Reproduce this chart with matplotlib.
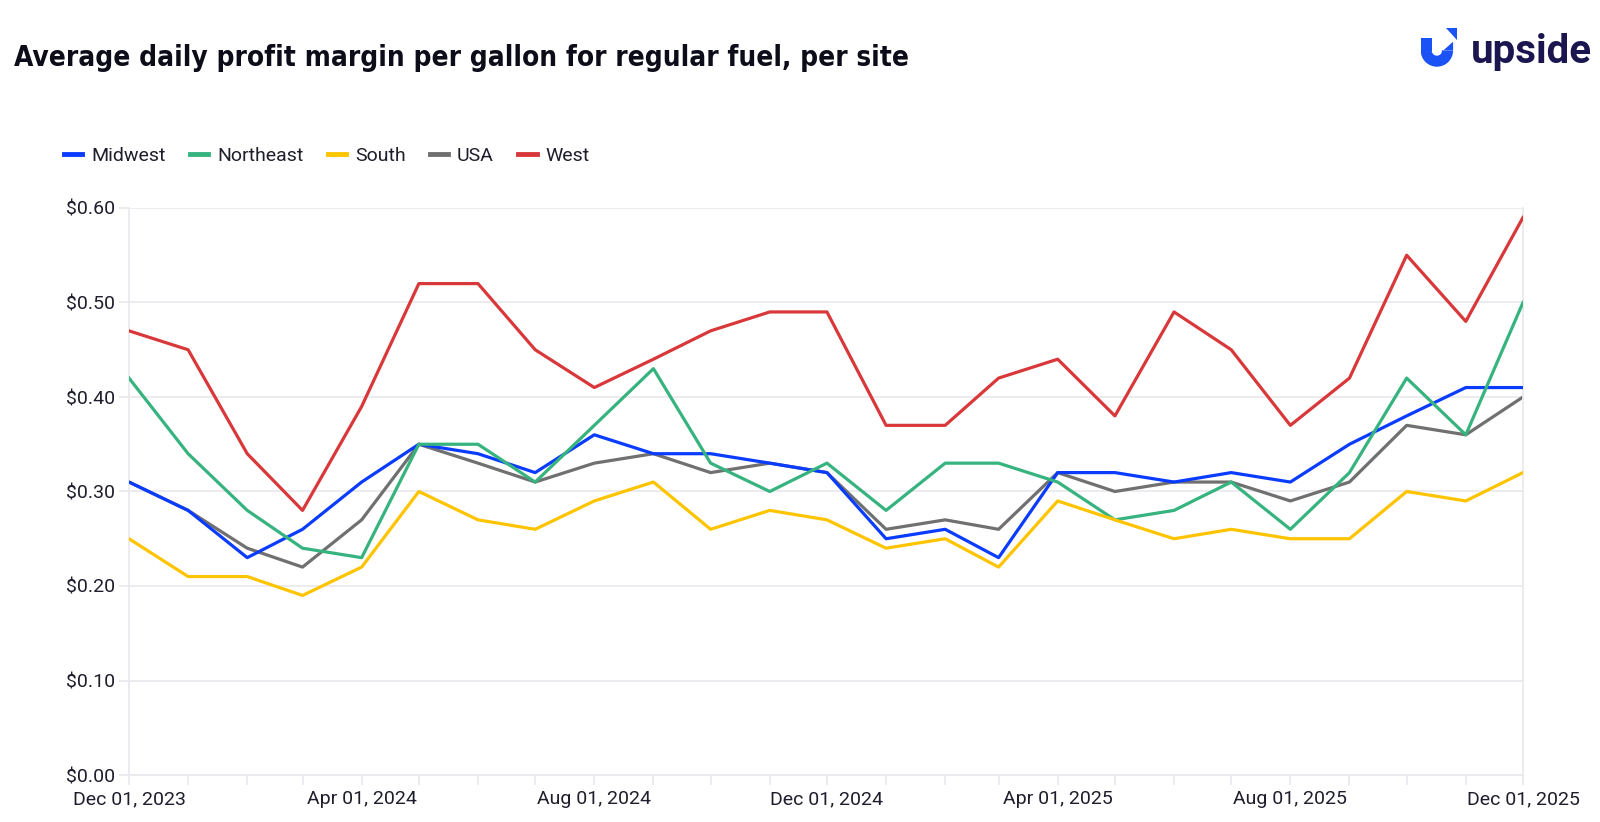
import pandas as pd
import matplotlib
matplotlib.use("Agg")
import matplotlib.pyplot as plt
from matplotlib import font_manager
from matplotlib.font_manager import FontProperties
from matplotlib.patches import Wedge, Rectangle, Polygon
from matplotlib.lines import Line2D

months = ["2023-12-01", "2024-01-01", "2024-02-01", "2024-03-01", "2024-04-01",
          "2024-05-01", "2024-06-01", "2024-07-01", "2024-08-01", "2024-09-01",
          "2024-10-01", "2024-11-01", "2024-12-01", "2025-01-01", "2025-02-01",
          "2025-03-01", "2025-04-01", "2025-05-01", "2025-06-01", "2025-07-01",
          "2025-08-01", "2025-09-01", "2025-10-01", "2025-11-01", "2025-12-01"]

midwest = [0.31, 0.28, 0.23, 0.26, 0.31, 0.35, 0.34, 0.32, 0.36, 0.34, 0.34, 0.33, 0.32,
           0.25, 0.26, 0.23, 0.32, 0.32, 0.31, 0.32, 0.31, 0.35, 0.38, 0.41, 0.41]
northeast = [0.42, 0.34, 0.28, 0.24, 0.23, 0.35, 0.35, 0.31, 0.37, 0.43, 0.33, 0.30, 0.33,
             0.28, 0.33, 0.33, 0.31, 0.27, 0.28, 0.31, 0.26, 0.32, 0.42, 0.36, 0.50]
south = [0.25, 0.21, 0.21, 0.19, 0.22, 0.30, 0.27, 0.26, 0.29, 0.31, 0.26, 0.28, 0.27,
         0.24, 0.25, 0.22, 0.29, 0.27, 0.25, 0.26, 0.25, 0.25, 0.30, 0.29, 0.32]
usa = [0.31, 0.28, 0.24, 0.22, 0.27, 0.35, 0.33, 0.31, 0.33, 0.34, 0.32, 0.33, 0.32,
       0.26, 0.27, 0.26, 0.32, 0.30, 0.31, 0.31, 0.29, 0.31, 0.37, 0.36, 0.40]
west = [0.47, 0.45, 0.34, 0.28, 0.39, 0.52, 0.52, 0.45, 0.41, 0.44, 0.47, 0.49, 0.49,
        0.37, 0.37, 0.42, 0.44, 0.38, 0.49, 0.45, 0.37, 0.42, 0.55, 0.48, 0.59]

series_names = ["Midwest", "Northeast", "South", "USA", "West"]
series_values = [midwest, northeast, south, usa, west]
colors = ["#0a3cff", "#36b37e", "#ffc400", "#707070", "#d9383a"]
draw_z = [3, 4, 5, 2, 6]  # grey sits underneath the regional lines

y_ticks = [0.0, 0.1, 0.2, 0.3, 0.4, 0.5, 0.6]
title = "Average daily profit margin per gallon for regular fuel, per site"

dates = pd.to_datetime(months)
tick_labels = [d.strftime("%b %d, %Y") if i % 4 == 0 else "" for i, d in enumerate(dates)]

plt.rcParams["font.family"] = ["Roboto", "DejaVu Sans"]
text_color = "#1e1e2c"
light = "#e9e9ef"
fs = 14


def title_font():
    # look for a narrow bold face, the original uses a condensed sans
    narrow = []
    for f in font_manager.fontManager.ttflist:
        squeezed = ("Condensed" in f.name or "Narrow" in f.name
                    or str(f.stretch) in ("condensed", "semi-condensed", "extra-condensed"))
        if squeezed:
            w = f.weight if isinstance(f.weight, int) else (700 if "bold" in str(f.weight) else 400)
            narrow.append((abs(w - 700), f.fname))
    if narrow:
        narrow.sort()
        return FontProperties(fname=narrow[0][1])
    return FontProperties(family="Roboto", weight="bold")


W, H = 1600, 822
fig = plt.figure(figsize=(W / 100, H / 100), dpi=100)
ax = fig.add_axes([129 / W, 1 - 775 / H, (1523 - 129) / W, (775 - 208) / H])

for name, vals, c, z in zip(series_names, series_values, colors, draw_z):
    ax.plot(dates, vals, color=c, lw=2.3, zorder=z)

ax.set_xlim(dates[0], dates[-1])
ax.set_ylim(0, 0.6)
ax.set_yticks(y_ticks)
ax.set_yticklabels([f"${v:.2f}" for v in y_ticks])
ax.set_xticks(dates)
ax.set_xticklabels(tick_labels)

ax.grid(axis="y", color=light, lw=1.3, zorder=0)
ax.spines["top"].set_visible(False)
for side in ["left", "right", "bottom"]:
    ax.spines[side].set_color(light)
    ax.spines[side].set_linewidth(1.3)
ax.tick_params(axis="both", colors=light, length=7, width=1.3, labelsize=fs,
               labelcolor=text_color)
ax.tick_params(axis="y", pad=3)
ax.tick_params(axis="x", pad=4)

# title, scaled so it spans the same width as the original
tp = title_font()
tp.set_size(24)
t = fig.text(14 / W, 1 - 58 / H, title, fontproperties=tp, color="#0d0d1a",
             va="center", ha="left")
fig.canvas.draw()
tw = t.get_window_extent().width
tp.set_size(min(30, 24 * 892 / tw))
t.set_fontproperties(tp)

# legend
handles = [Line2D([0], [0], color=c, lw=3.5) for c in colors]
fig.legend(handles, series_names, loc="center left", bbox_to_anchor=(64 / W, 1 - 156 / H),
           ncol=5, frameon=False, fontsize=fs, handlelength=0.95, handletextpad=0.45,
           columnspacing=1.25, labelcolor=text_color, borderaxespad=0, borderpad=0)

# upside logo: U-shaped mark with an arrow head, then the word
lax = fig.add_axes([1420.7 / W, 1 - 66.7 / H, 37 / W, 40 / H])
lax.set_xlim(0, 37)
lax.set_ylim(0, 40)
lax.axis("off")
blue = "#1a52f5"
lax.add_patch(Wedge((16.2, 16.2), 16.2, 180, 360, width=11, color=blue, lw=0))
lax.add_patch(Rectangle((0, 16.1), 11, 12.3, color=blue, lw=0))
lax.add_patch(Polygon([(21.2, 16.3), (21.2, 15), (32.4, 25), (32.4, 16.3)], closed=True,
                      color=blue, lw=0))
lax.add_patch(Polygon([(25.5, 39), (36.6, 39), (36.6, 27)], closed=True, color=blue, lw=0))
fig.text(1471 / W, 1 - 63 / H, "upside", fontsize=29, fontweight="bold", color="#1b1650",
         va="baseline", ha="left", family=["Roboto", "DejaVu Sans"])

fig.savefig("out.png", dpi=100)
